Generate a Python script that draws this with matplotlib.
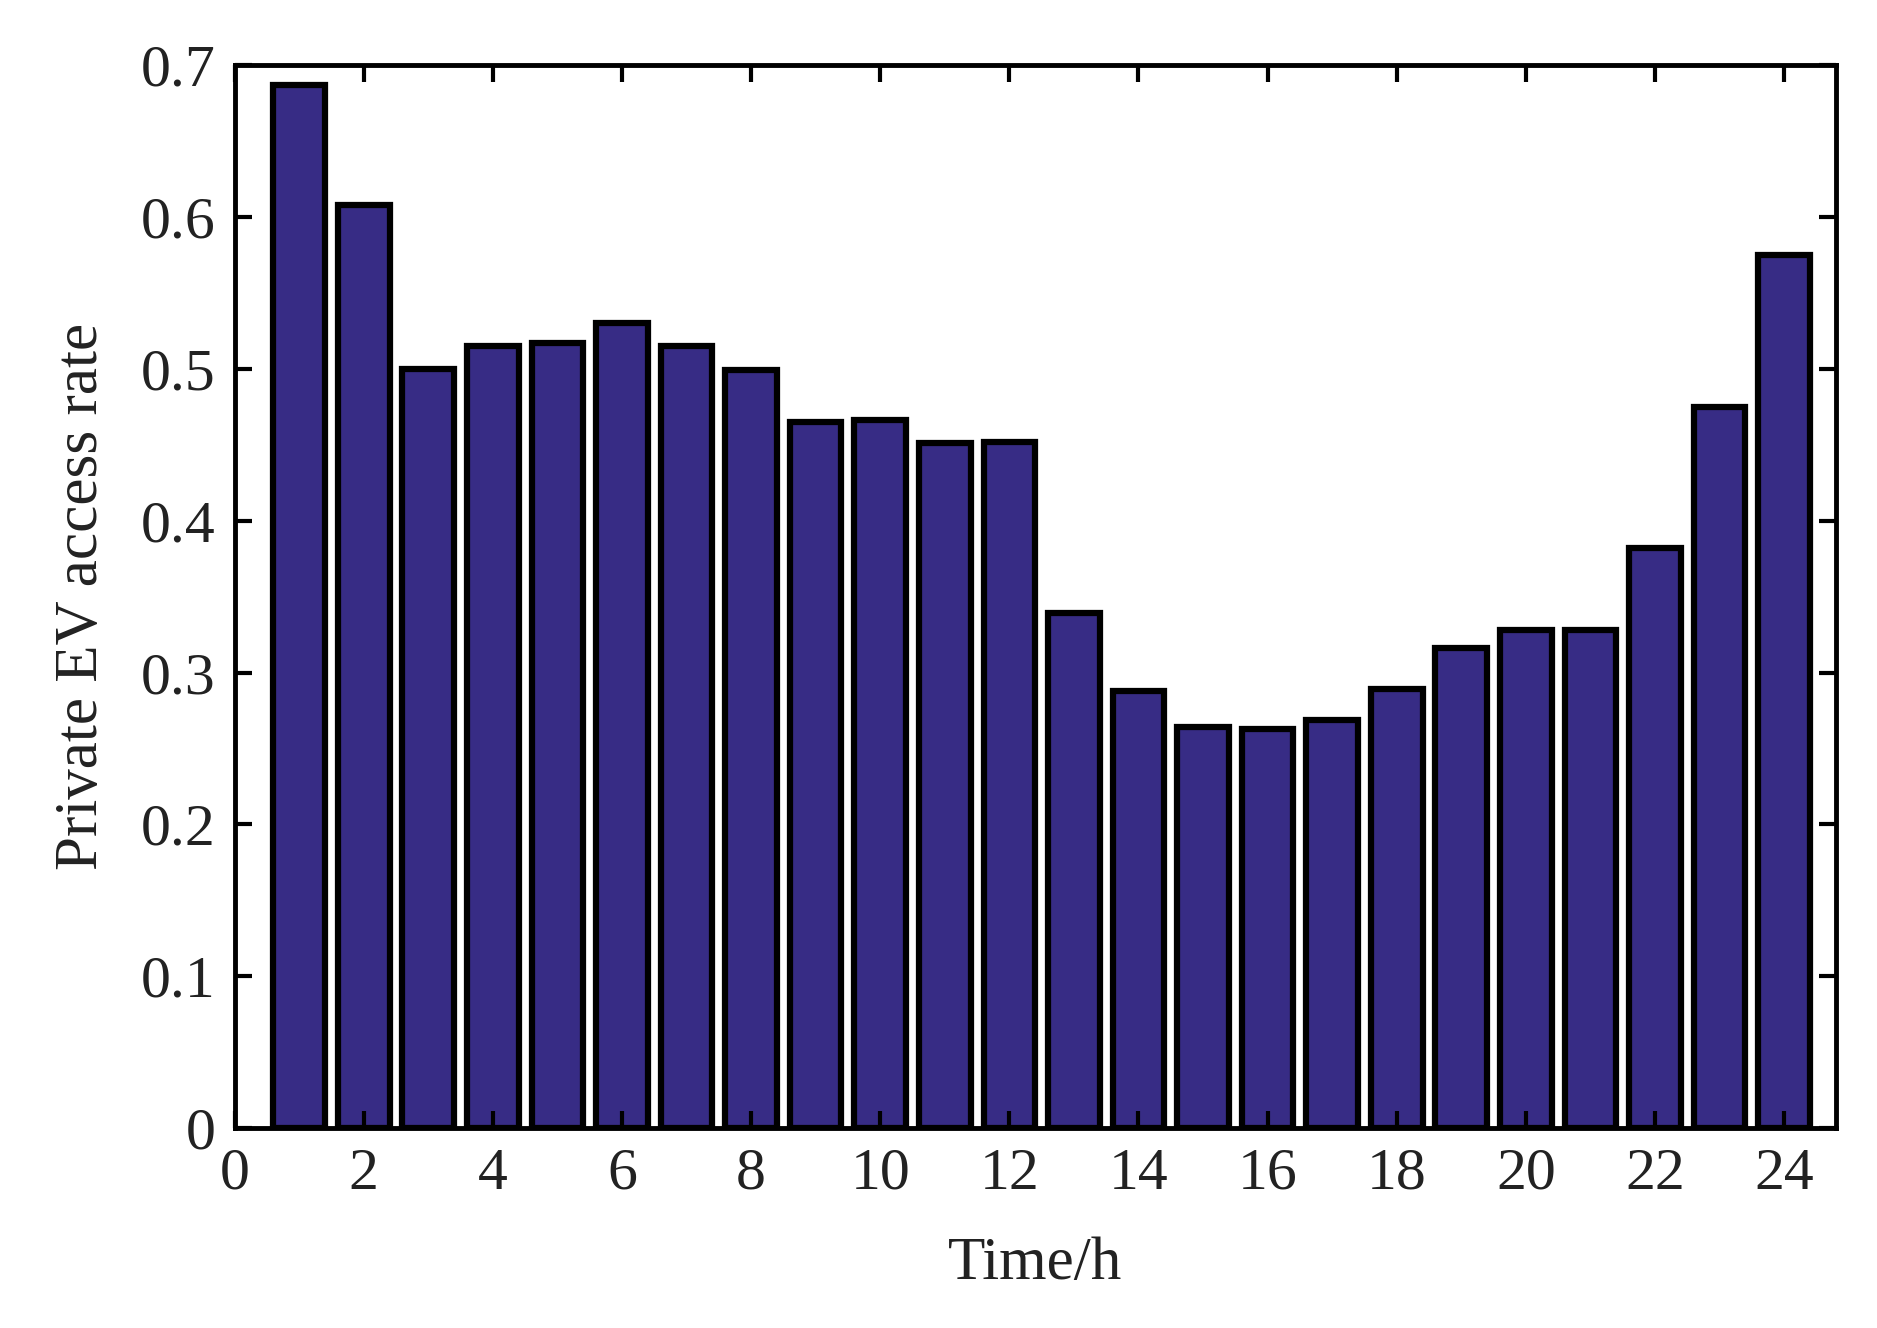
import matplotlib
matplotlib.use("Agg")
import matplotlib.pyplot as plt

hours = list(range(1, 25))
rates = [0.687, 0.608, 0.500, 0.515, 0.517, 0.530, 0.515, 0.499, 0.465, 0.466, 0.451, 0.452,
         0.339, 0.288, 0.264, 0.263, 0.269, 0.289, 0.316, 0.328, 0.328, 0.382, 0.475, 0.575]

plt.rcParams['font.family'] = ['Liberation Serif', 'DejaVu Serif']
fig = plt.figure(figsize=(18.77, 13.28), dpi=100)
ax = fig.add_axes([0.125, 0.1505, 0.853, 0.8005])
ax.bar(hours, rates, width=0.8, color='#372c85', edgecolor='black', linewidth=4.5)
ax.set_xlim(0, 24.8)
ax.set_ylim(0, 0.7)
ax.set_xticks(range(0, 25, 2))
ax.set_yticks([i/10 for i in range(8)])
ax.set_yticklabels(['0'] + [f'{i/10:.1f}' for i in range(1, 8)])
ax.tick_params(direction='in', length=12, width=3, labelsize=43, colors='black', top=True, right=True, pad=14)
for lab in ax.get_xticklabels() + ax.get_yticklabels():
    lab.set_color('#222222')
for s in ax.spines.values():
    s.set_linewidth(3.5)
ax.set_xlabel('Time/h', fontsize=44, labelpad=25, color='#222222')
ax.set_ylabel('Private EV access rate', fontsize=44, labelpad=22, color='#222222')
fig.savefig('out.png')
